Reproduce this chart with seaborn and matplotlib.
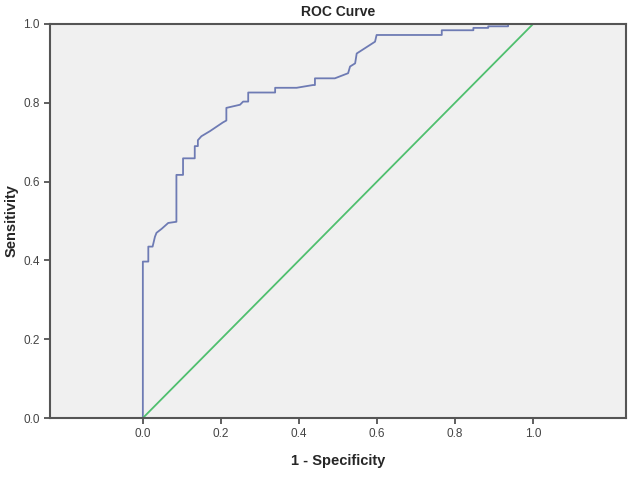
import matplotlib
matplotlib.use("Agg")
import matplotlib.pyplot as plt
import seaborn as sns
import pandas as pd

# ROC curve vertices (1 - specificity, sensitivity)
fpr = [0.0, 0.0, 0.014, 0.014, 0.025, 0.031, 0.035, 0.048, 0.065, 0.086,
       0.086, 0.103, 0.103, 0.133, 0.133, 0.141, 0.141, 0.150, 0.172, 0.190,
       0.205, 0.214, 0.214, 0.249, 0.257, 0.270, 0.270, 0.339, 0.339, 0.394,
       0.436, 0.441, 0.441, 0.492, 0.526, 0.531, 0.544, 0.548, 0.595, 0.599,
       0.766, 0.766, 0.847, 0.847, 0.885, 0.885, 0.936, 0.936, 1.0]
tpr = [0.0, 0.397, 0.397, 0.435, 0.435, 0.460, 0.470, 0.480, 0.495, 0.498,
       0.617, 0.617, 0.659, 0.659, 0.690, 0.690, 0.705, 0.715, 0.728, 0.740,
       0.750, 0.755, 0.787, 0.795, 0.803, 0.803, 0.826, 0.826, 0.838, 0.838,
       0.845, 0.845, 0.862, 0.862, 0.875, 0.892, 0.900, 0.925, 0.955, 0.972,
       0.972, 0.984, 0.984, 0.990, 0.990, 0.994, 0.994, 1.0, 1.0]

ref_x = [0.0, 1.0]
ref_y = [0.0, 1.0]

x_ticks = [0.0, 0.2, 0.4, 0.6, 0.8, 1.0]
y_ticks = [0.0, 0.2, 0.4, 0.6, 0.8, 1.0]

roc = pd.DataFrame({"fpr": fpr, "tpr": tpr})
ref = pd.DataFrame({"x": ref_x, "y": ref_y})

sns.set_style("ticks", {"axes.facecolor": "#f0f0f0"})
plt.rcParams["font.family"] = ["Liberation Sans", "DejaVu Sans"]

fig = plt.figure(figsize=(6.31, 4.79), dpi=100)
ax = fig.add_axes([0.0792, 0.1273, 0.9128, 0.8227])

sns.lineplot(data=roc, x="fpr", y="tpr", sort=False, estimator=None,
             color="#6e7bb4", linewidth=1.3, ax=ax)
sns.lineplot(data=ref, x="x", y="y", sort=False, estimator=None,
             color="#4fbf6e", linewidth=1.3, ax=ax)

ax.set_xlim(-0.238, 1.238)
ax.set_ylim(0.0, 1.0)
ax.set_xticks(x_ticks)
ax.set_yticks(y_ticks)
ax.set_xticklabels([f"{t:.1f}" for t in x_ticks])
ax.set_yticklabels([f"{t:.1f}" for t in y_ticks])
ax.tick_params(direction="out", length=4, width=1.2, color="#444444",
               labelsize=8.5, labelcolor="#444444")

for side in ["left", "bottom", "top", "right"]:
    ax.spines[side].set_visible(True)
    ax.spines[side].set_color("#555555")
    ax.spines[side].set_linewidth(1.5)

ax.set_xlabel("1 - Specificity", fontsize=10.5, fontweight="bold", labelpad=10)
ax.set_ylabel("Sensitivity", fontsize=10.5, fontweight="bold", labelpad=3)
ax.set_title("ROC Curve", fontsize=10, fontweight="bold", pad=6)

fig.savefig("out.png", dpi=100)
